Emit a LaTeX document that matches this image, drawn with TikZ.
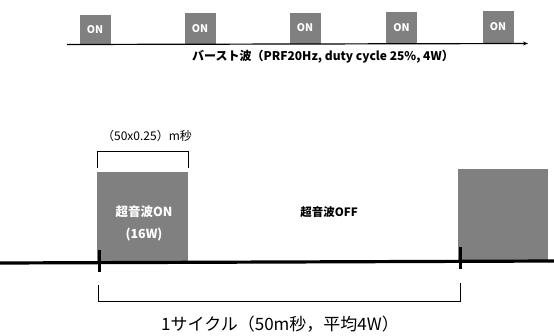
\documentclass[tikz,border=0pt]{standalone}
\usepackage{fontspec}
\setmainfont{Noto Sans CJK JP}
\usetikzlibrary{arrows.meta}
\definecolor{boxgray}{RGB}{128,128,128}
\tikzset{
  onbox/.style={fill=boxgray, draw=none, inner sep=0pt, minimum width=31pt, minimum height=31pt,
    text=white, font=\fontsize{10.5}{12}\selectfont\bfseries},
  bigbox/.style={fill=boxgray, draw=none, inner sep=0pt},
  thinline/.style={line width=0.9pt, black},
  axisline/.style={line width=3.2pt, black},
  tick/.style={line width=3pt, black},
}
\begin{document}
\begin{tikzpicture}[x=1pt,y=-1pt]
\useasboundingbox (0,0) rectangle (554,335);
% top burst row
\node[onbox, minimum height=30pt] (b1) at (95,29.5) {ON};
\node[onbox] (b2) at (200,28.5) {ON};
\node[onbox] (b3) at (305,28) {ON};
\node[onbox] (b4) at (401.5,27.5) {ON};
\node[onbox, minimum height=32pt] (b5) at (498,27) {ON};
\coordinate (ta) at (67,44.5);
\coordinate (tb) at (528,43.5);
\draw[line width=1.2pt, -{Stealth[length=5pt,width=4pt]}] (ta) -- (tb);
\node[font=\fontsize{12}{14}\selectfont\bfseries] (cap1) at (323,57) {バースト波（PRF20Hz, duty cycle 25\%, 4W）};
% main timeline
\node[bigbox, minimum width=91pt, minimum height=90pt] (on) at (142.5,217) {};
\node[bigbox, minimum width=90pt, minimum height=93pt] (nx) at (503,215.5) {};
\node[text=white, font=\fontsize{12.5}{22}\selectfont\bfseries, align=center] (ontxt) at (144,223) {超音波ON\\(16W)};
\node[font=\fontsize{11.5}{13}\selectfont\bfseries] (offtxt) at (329,212) {超音波OFF};
\coordinate (al) at (0,263);
\coordinate (ar) at (554,261);
\draw[axisline] (al) -- (ar);
\coordinate (t1a) at (99,250); \coordinate (t1b) at (99,272);
\coordinate (t2a) at (460,247); \coordinate (t2b) at (460,269);
\draw[tick] (t1a) -- (t1b);
\draw[tick] (t2a) -- (t2b);
% top bracket
\coordinate (k1) at (97,168); \coordinate (k2) at (97,151);
\coordinate (k3) at (188,151); \coordinate (k4) at (188,168);
\draw[thinline] (k1) -- (k2) -- (k3) -- (k4);
\node[font=\fontsize{12}{14}\selectfont] (durtxt) at (147,136) {（50x0.25）m秒};
% bottom bracket
\coordinate (m1) at (98,285); \coordinate (m2) at (98,301);
\coordinate (m3) at (460,301); \coordinate (m4) at (460,283);
\draw[thinline] (m1) -- (m2) -- (m3) -- (m4);
\node[font=\fontsize{17}{20}\selectfont] (cyc) at (280,324) {1サイクル（50m秒，平均4W）};
\end{tikzpicture}
\end{document}
